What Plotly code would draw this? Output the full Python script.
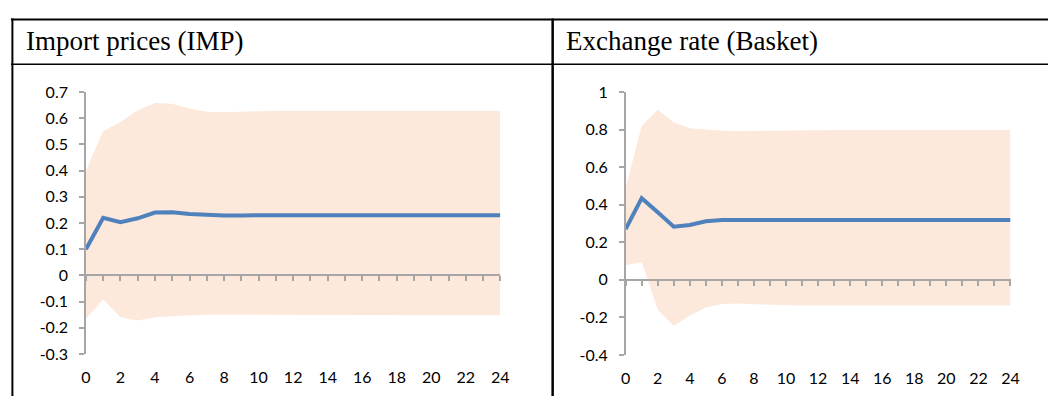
import plotly.graph_objects as go

periods = list(range(25))

imp_resp = [0.10, 0.22, 0.203, 0.218, 0.240, 0.241, 0.234, 0.230, 0.229, 0.229,
            0.230, 0.230, 0.230, 0.230, 0.230, 0.230, 0.230, 0.230, 0.230, 0.230,
            0.230, 0.230, 0.230, 0.230, 0.230]
imp_upper = [0.40, 0.55, 0.585, 0.63, 0.658, 0.655, 0.637, 0.625, 0.623, 0.625,
             0.627, 0.628, 0.628, 0.628, 0.628, 0.628, 0.628, 0.628, 0.628, 0.628,
             0.628, 0.628, 0.628, 0.628, 0.628]
imp_lower = [-0.165, -0.092, -0.160, -0.172, -0.160, -0.155, -0.152, -0.150, -0.150, -0.150,
             -0.151, -0.152, -0.152, -0.152, -0.152, -0.152, -0.152, -0.152, -0.152, -0.152,
             -0.152, -0.152, -0.152, -0.152, -0.152]

bsk_resp = [0.27, 0.435, 0.36, 0.283, 0.292, 0.312, 0.319, 0.320, 0.320, 0.319,
            0.318, 0.318, 0.318, 0.318, 0.318, 0.318, 0.318, 0.318, 0.318, 0.318,
            0.318, 0.318, 0.318, 0.318, 0.318]
bsk_upper = [0.49, 0.82, 0.905, 0.837, 0.807, 0.800, 0.793, 0.792, 0.793, 0.795,
             0.797, 0.798, 0.798, 0.798, 0.798, 0.798, 0.798, 0.798, 0.798, 0.798,
             0.798, 0.798, 0.798, 0.798, 0.798]
bsk_lower = [0.078, 0.095, -0.159, -0.246, -0.19, -0.147, -0.128, -0.126, -0.130, -0.133,
             -0.136, -0.137, -0.137, -0.137, -0.137, -0.137, -0.137, -0.137, -0.137, -0.137,
             -0.137, -0.137, -0.137, -0.137, -0.137]

titles = ["Import prices (IMP)", "Exchange rate (Basket)"]
imp_yticks = [-0.3, -0.2, -0.1, 0, 0.1, 0.2, 0.3, 0.4, 0.5, 0.6, 0.7]
imp_ylabels = ["-0.3", "-0.2", "-0.1", "0", "0.1", "0.2", "0.3", "0.4", "0.5", "0.6", "0.7"]
bsk_yticks = [-0.4, -0.2, 0, 0.2, 0.4, 0.6, 0.8, 1.0]
bsk_ylabels = ["-0.4", "-0.2", "0", "0.2", "0.4", "0.6", "0.8", "1"]
xticks = list(range(0, 25, 2))

W, H = 1057, 405
LINE = "#4F81BD"
BAND = "#FCE9DB"
AX = "#A6A6A6"
FONT = "Lato"
FS = 16


def px2x(v):
    return v / W


def px2y(v):
    return (H - v) / H


panels = [
    dict(resp=imp_resp, up=imp_upper, lo=imp_lower, yt=imp_yticks, yl=imp_ylabels,
         yr=(-0.3, 0.7), px=(82, 502), py=(86, 361)),
    dict(resp=bsk_resp, up=bsk_upper, lo=bsk_lower, yt=bsk_yticks, yl=bsk_ylabels,
         yr=(-0.4, 1.0), px=(629, 1019), py=(86, 362)),
]

fig = go.Figure()
layout = {}
for i, p in enumerate(panels):
    n = i + 1
    xa = "x" if n == 1 else f"x{2*n-1}"
    xz = f"x{2*n}"
    ya = "y" if n == 1 else f"y{n}"
    xd = [px2x(p["px"][0]), px2x(p["px"][1])]
    yd = [px2y(p["py"][1]), px2y(p["py"][0])]
    fig.add_trace(go.Scatter(x=periods, y=p["lo"], mode="lines", line=dict(width=0),
                             hoverinfo="skip", showlegend=False, xaxis=xa, yaxis=ya))
    fig.add_trace(go.Scatter(x=periods, y=p["up"], mode="lines", line=dict(width=0),
                             fill="tonexty", fillcolor=BAND, hoverinfo="skip",
                             showlegend=False, xaxis=xa, yaxis=ya))
    fig.add_trace(go.Scatter(x=[0, 24], y=[0, 0], mode="lines", line=dict(width=0),
                             hoverinfo="skip", showlegend=False, xaxis=xz, yaxis=ya))
    fig.add_trace(go.Scatter(x=periods, y=p["resp"], mode="lines",
                             line=dict(color=LINE, width=4), showlegend=False,
                             xaxis=xa, yaxis=ya))
    key_x = "xaxis" if n == 1 else f"xaxis{2*n-1}"
    key_z = f"xaxis{2*n}"
    key_y = "yaxis" if n == 1 else f"yaxis{n}"
    ymin, ymax = p["yr"]
    zpos = yd[0] + (0 - ymin) / (ymax - ymin) * (yd[1] - yd[0])
    layout[key_x] = dict(domain=xd, range=[0, 24], anchor=ya, showgrid=False,
                         zeroline=False, showline=False, ticks="",
                         tickvals=xticks, ticktext=[str(t) for t in xticks],
                         ticklabelstandoff=12,
                         tickfont=dict(family=FONT, size=FS, color="#000"))
    layout[key_z] = dict(domain=xd, range=[0, 24], anchor="free", position=zpos,
                         overlaying=xa, showgrid=False, zeroline=False,
                         showline=True, linecolor=AX, linewidth=1.5,
                         ticks="outside", ticklen=5, tickwidth=1.5, tickcolor=AX,
                         tickvals=periods, showticklabels=False)
    layout[key_y] = dict(domain=yd, range=list(p["yr"]), anchor=xa, showgrid=False,
                         zeroline=False, showline=True, linecolor=AX, linewidth=1.5,
                         ticks="outside", ticklen=5, tickwidth=1.5, tickcolor=AX,
                         tickvals=p["yt"], ticktext=p["yl"], ticklabelstandoff=8,
                         tickfont=dict(family=FONT, size=FS, color="#000"))

shapes = [
    dict(type="line", xref="paper", yref="paper", x0=px2x(6), x1=1, y0=px2y(10), y1=px2y(10),
         line=dict(color="#000", width=2)),
    dict(type="line", xref="paper", yref="paper", x0=px2x(6), x1=1, y0=px2y(57), y1=px2y(57),
         line=dict(color="#000", width=1.5)),
    dict(type="line", xref="paper", yref="paper", x0=px2x(7.5), x1=px2x(7.5), y0=px2y(9), y1=0,
         line=dict(color="#000", width=2)),
    dict(type="line", xref="paper", yref="paper", x0=px2x(555), x1=px2x(555), y0=px2y(9), y1=0,
         line=dict(color="#000", width=2.5)),
]
annotations = [
    dict(text=titles[0], xref="paper", yref="paper", x=px2x(19), y=px2y(33),
         xanchor="left", yanchor="middle", showarrow=False,
         font=dict(family="Liberation Serif", size=27, color="#000")),
    dict(text=titles[1], xref="paper", yref="paper", x=px2x(566), y=px2y(33),
         xanchor="left", yanchor="middle", showarrow=False,
         font=dict(family="Liberation Serif", size=27, color="#000")),
]

fig.update_layout(width=W, height=H, margin=dict(l=0, r=0, t=0, b=0),
                  paper_bgcolor="white", plot_bgcolor="rgba(0,0,0,0)",
                  shapes=shapes, annotations=annotations, showlegend=False, **layout)
fig.write_html("out.html", config={"displayModeBar": False},
               post_script="document.body.style.margin='0';document.body.style.overflow='hidden';")
